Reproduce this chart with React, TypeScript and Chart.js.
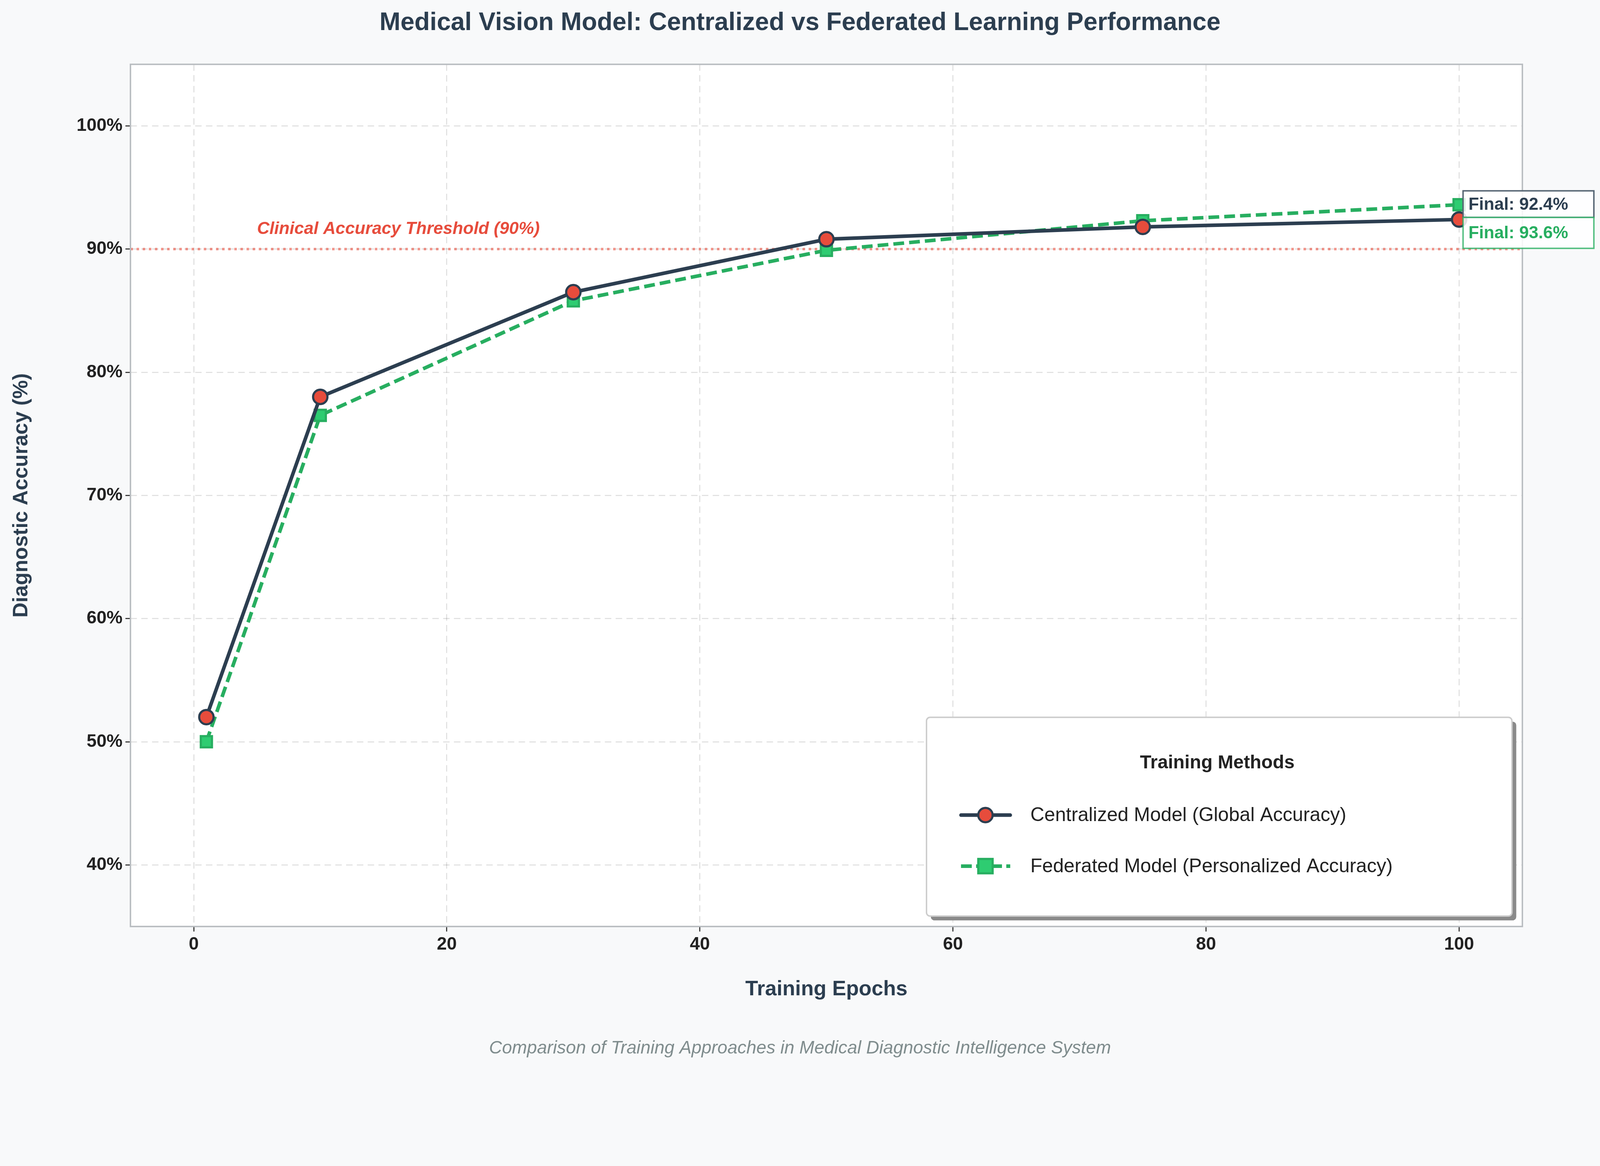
import React, { useEffect, useRef } from "react";
import { Chart, registerables } from "chart.js";
Chart.register(...registerables);

const epochs = [1, 10, 30, 50, 75, 100];
const centralized = [52.0, 78.0, 86.5, 90.8, 91.8, 92.4];
const federated = [50.0, 76.5, 85.8, 89.9, 92.3, 93.6];
const yTicks = [40, 50, 60, 70, 80, 90, 100];
const xTicks = [0, 20, 40, 60, 80, 100];
const threshold = 90;

const FONT = "'Liberation Sans', Arial, sans-serif";
const DARK = "#2c3e50";
const RED = "#e74c3c";
const GREEN = "#27ae60";
const LGREEN = "#2ecc71";

function makeDeco(k: number, W: number, H: number) {
  return {
    id: "deco",
    beforeDraw(chart: any) {
      const { ctx, chartArea: a } = chart;
      ctx.save();
      ctx.fillStyle = "#f8f9fa";
      ctx.fillRect(0, 0, W, H);
      ctx.fillStyle = "#ffffff";
      ctx.fillRect(a.left, a.top, a.right - a.left, a.bottom - a.top);
      ctx.restore();
    },
    beforeDatasetsDraw(chart: any) {
      const { ctx, chartArea: a, scales } = chart;
      const y = scales.y.getPixelForValue(threshold);
      ctx.save();
      ctx.strokeStyle = "rgba(231,76,60,0.6)";
      ctx.lineWidth = 7 * k;
      ctx.setLineDash([7 * k, 10 * k]);
      ctx.beginPath();
      ctx.moveTo(a.left, y);
      ctx.lineTo(a.right, y);
      ctx.stroke();
      ctx.setLineDash([]);
      ctx.fillStyle = RED;
      ctx.font = `italic bold ${48 * k}px ${FONT}`;
      ctx.textAlign = "left";
      ctx.fillText("Clinical Accuracy Threshold (90%)", scales.x.getPixelForValue(5), y - 42 * k);
      ctx.restore();
    },
    afterDraw(chart: any) {
      const { ctx, chartArea: a, scales } = chart;
      ctx.save();
      ctx.strokeStyle = "#b8bcc0";
      ctx.lineWidth = 4 * k;
      ctx.strokeRect(a.left, a.top, a.right - a.left, a.bottom - a.top);
      ctx.fillStyle = DARK;
      ctx.textAlign = "center";
      ctx.textBaseline = "middle";
      ctx.font = `bold ${70 * k}px ${FONT}`;
      ctx.fillText("Medical Vision Model: Centralized vs Federated Learning Performance", W / 2, 64 * k);
      ctx.font = `bold ${58 * k}px ${FONT}`;
      ctx.fillText("Training Epochs", (a.left + a.right) / 2, 2754 * k);
      ctx.save();
      ctx.translate(60 * k, (a.top + a.bottom) / 2);
      ctx.rotate(-Math.PI / 2);
      ctx.fillText("Diagnostic Accuracy (%)", 0, 0);
      ctx.restore();
      ctx.fillStyle = "#7f8c8d";
      ctx.font = `italic ${50 * k}px ${FONT}`;
      ctx.fillText("Comparison of Training Approaches in Medical Diagnostic Intelligence System", W / 2, 2918 * k);
      const px = scales.x.getPixelForValue(100) + 11 * k;
      const labels = [
        { t: `Final: ${centralized[centralized.length - 1]}%`, c: DARK, b: "#566573", y0: 531, y1: 605 },
        { t: `Final: ${federated[federated.length - 1]}%`, c: GREEN, b: "rgba(39,174,96,0.8)", y0: 605, y1: 691 },
      ];
      ctx.font = `bold ${48 * k}px ${FONT}`;
      ctx.textAlign = "left";
      for (const l of labels) {
        ctx.fillStyle = "rgba(255,255,255,0.85)";
        ctx.fillRect(px, l.y0 * k, 364 * k, (l.y1 - l.y0) * k);
        ctx.strokeStyle = l.b;
        ctx.lineWidth = 4 * k;
        ctx.strokeRect(px, l.y0 * k, 364 * k, (l.y1 - l.y0) * k);
        ctx.fillStyle = l.c;
        ctx.fillText(l.t, px + 15 * k, ((l.y0 + l.y1) / 2 + 2) * k);
      }
      const lx = 2578 * k, ly = 1996 * k, lw = 1629 * k, lh = 553 * k;
      ctx.fillStyle = "#8a8a8a";
      ctx.beginPath();
      ctx.roundRect(lx + 12 * k, ly + 12 * k, lw, lh, 10 * k);
      ctx.fill();
      ctx.fillStyle = "#ffffff";
      ctx.strokeStyle = "#cccccc";
      ctx.lineWidth = 4 * k;
      ctx.beginPath();
      ctx.roundRect(lx, ly, lw, lh, 10 * k);
      ctx.fill();
      ctx.stroke();
      ctx.fillStyle = "#222222";
      ctx.textAlign = "center";
      ctx.font = `bold ${52 * k}px ${FONT}`;
      ctx.fillText("Training Methods", 3387 * k, 2124 * k);
      ctx.textAlign = "left";
      ctx.font = `${54 * k}px ${FONT}`;
      let yy = 2268 * k;
      ctx.strokeStyle = DARK;
      ctx.lineWidth = 10 * k;
      ctx.lineCap = "round";
      ctx.beginPath(); ctx.moveTo(2674 * k, yy); ctx.lineTo(2811 * k, yy); ctx.stroke();
      ctx.lineCap = "butt";
      ctx.fillStyle = RED; ctx.lineWidth = 6 * k;
      ctx.beginPath(); ctx.arc(2742 * k, yy, 20 * k, 0, Math.PI * 2); ctx.fill(); ctx.stroke();
      ctx.fillStyle = "#222222";
      ctx.fillText("Centralized Model (Global Accuracy)", 2867 * k, yy + 2 * k);
      yy = 2410 * k;
      ctx.strokeStyle = GREEN; ctx.lineWidth = 10 * k;
      ctx.setLineDash([30 * k, 12 * k]);
      ctx.beginPath(); ctx.moveTo(2674 * k, yy); ctx.lineTo(2811 * k, yy); ctx.stroke();
      ctx.setLineDash([]);
      ctx.fillStyle = LGREEN; ctx.lineWidth = 6 * k;
      ctx.fillRect(2722 * k, yy - 20 * k, 40 * k, 40 * k); ctx.strokeRect(2722 * k, yy - 20 * k, 40 * k, 40 * k);
      ctx.fillStyle = "#222222";
      ctx.fillText("Federated Model (Personalized Accuracy)", 2867 * k, yy + 2 * k);
      ctx.restore();
    },
  };
}

export default function App() {
  const ref = useRef<HTMLCanvasElement>(null);
  useEffect(() => {
    const W = window.innerWidth, H = window.innerHeight;
    const k = W / 4452;
    const cv = ref.current!;
    cv.style.width = W + "px";
    cv.style.height = H + "px";
    cv.width = W; cv.height = H;
    const tickFont = { family: FONT, size: 50 * k, weight: "bold" };
    const chart = new Chart(cv, {
      type: "line",
      data: {
        datasets: [
          {
            label: "Centralized Model (Global Accuracy)",
            data: epochs.map((x, i) => ({ x, y: centralized[i] })),
            borderColor: DARK, borderWidth: 10 * k,
            pointStyle: "circle", pointRadius: 20 * k, pointBackgroundColor: RED,
            pointBorderColor: DARK, pointBorderWidth: 6 * k, tension: 0,
          },
          {
            label: "Federated Model (Personalized Accuracy)",
            data: epochs.map((x, i) => ({ x, y: federated[i] })),
            borderColor: GREEN, borderWidth: 10 * k, borderDash: [30 * k, 14 * k],
            pointStyle: "rect", pointRadius: 22 * k, pointBackgroundColor: LGREEN,
            pointBorderColor: GREEN, pointBorderWidth: 6 * k, tension: 0,
          },
        ],
      },
      options: {
        animation: false, responsive: false,
        layout: { padding: { left: 0, top: 179 * k, right: 216 * k, bottom: 0 } },
        plugins: { legend: { display: false }, tooltip: { enabled: false } },
        scales: {
          x: {
            type: "linear", min: -5, max: 105,
            afterBuildTicks: (s: any) => { s.ticks = xTicks.map((v) => ({ value: v })); },
            afterFit: (s: any) => { s.height = H - 2578 * k; },
            grid: { color: "rgba(0,0,0,0.12)", lineWidth: 3 * k, tickLength: 14 * k, tickColor: "#333" },
            border: { display: false, dash: [18 * k, 12 * k] },
            ticks: { color: "#222", font: tickFont, padding: 6 * k },
          },
          y: {
            type: "linear", min: 35, max: 105,
            afterBuildTicks: (s: any) => { s.ticks = yTicks.map((v) => ({ value: v })); },
            afterFit: (s: any) => { s.width = 363 * k; },
            grid: { color: "rgba(0,0,0,0.12)", lineWidth: 3 * k, tickLength: 14 * k, tickColor: "#333" },
            border: { display: false, dash: [18 * k, 12 * k] },
            ticks: { color: "#222", font: tickFont, padding: 8 * k, callback: (v: any) => `${v}%` },
          },
        },
      },
      plugins: [makeDeco(k, W, H)],
    } as any);
    return () => chart.destroy();
  }, []);
  return <canvas ref={ref} style={{ position: "fixed", left: 0, top: 0 }} />;
}
